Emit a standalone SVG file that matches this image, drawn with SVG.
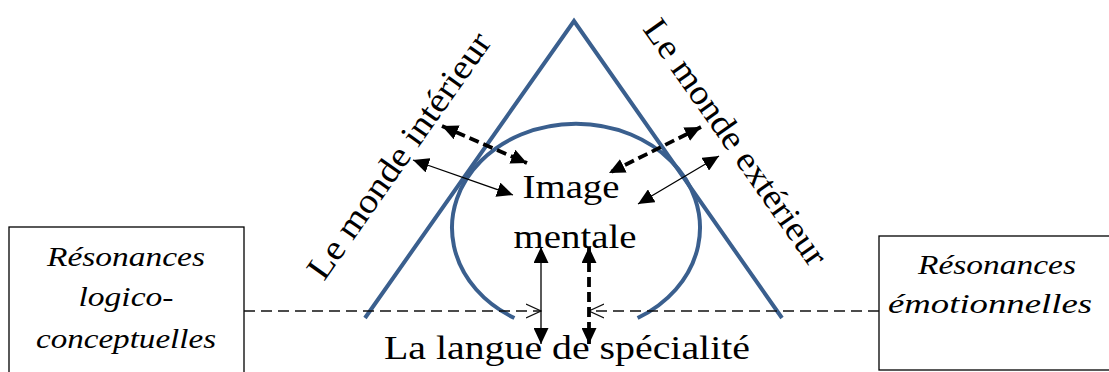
<svg xmlns="http://www.w3.org/2000/svg" width="1109" height="372" viewBox="0 0 1109 372">
<style>
.shape{fill:none;stroke:#3A5F8E;stroke-width:4;stroke-linejoin:miter}
text{font-family:'Liberation Serif','Times New Roman',Times,serif;fill:#000;text-anchor:middle}
.it{font-style:italic;font-size:28px}
.box{fill:#fff;stroke:#000;stroke-width:1.3}
.thin{fill:none;stroke:#000;stroke-width:1.3}
.dash{fill:none;stroke:#000;stroke-width:3.8;stroke-dasharray:10 5}
.hdash{fill:none;stroke:#111;stroke-width:1.3;stroke-dasharray:11 6}
</style>
<defs>
<marker id="ah" markerUnits="userSpaceOnUse" markerWidth="17" markerHeight="15" refX="16" refY="7.5" orient="auto-start-reverse" viewBox="0 0 17 15">
<path d="M0,0 L16,7.5 L0,15 z" fill="#000"/>
</marker>
<marker id="oh" markerUnits="userSpaceOnUse" markerWidth="16" markerHeight="18" refX="15" refY="8" orient="auto" viewBox="0 0 16 16">
<path d="M0,1 L15,8 L0,15" fill="none" stroke="#111" stroke-width="1.2"/>
</marker>
</defs>

<g id="box-left">
<rect class="box" x="9" y="227" width="235" height="160"/>
<text class="it" font-family="Liberation Serif" x="126" y="266" textLength="158" lengthAdjust="spacingAndGlyphs">Résonances</text>
<text class="it" font-family="Liberation Serif" x="126" y="306" textLength="95" lengthAdjust="spacingAndGlyphs">logico-</text>
<text class="it" font-family="Liberation Serif" x="126" y="348" textLength="180" lengthAdjust="spacingAndGlyphs">conceptuelles</text>
</g>

<g id="box-right">
<rect class="box" x="879" y="236" width="240" height="134"/>
<text class="it" font-family="Liberation Serif" x="997" y="274" textLength="158" lengthAdjust="spacingAndGlyphs">Résonances</text>
<text class="it" font-family="Liberation Serif" x="990" y="313" textLength="204" lengthAdjust="spacingAndGlyphs">émotionnelles</text>
</g>

<g id="triangle">
<polyline class="shape" points="365,318 574,21 782,318"/>
</g>

<g id="circle">
<path class="shape" d="M514.4,318 A124,104 0 1 1 637.6,318"/>
</g>

<g id="monde-interieur">
<text font-family="Liberation Serif" style="text-anchor:start" font-size="35" transform="translate(324,282) rotate(-54.9)" textLength="293" lengthAdjust="spacingAndGlyphs">Le monde intérieur</text>
</g>

<g id="monde-exterieur">
<text font-family="Liberation Serif" style="text-anchor:start" font-size="35" transform="translate(642,29) rotate(54.9)" textLength="293" lengthAdjust="spacingAndGlyphs">Le monde extérieur</text>
</g>

<g id="image-mentale">
<text font-family="Liberation Serif" font-size="33" x="571" y="198" textLength="97" lengthAdjust="spacingAndGlyphs">Image</text>
<text font-family="Liberation Serif" font-size="33" x="575" y="248" textLength="123" lengthAdjust="spacingAndGlyphs">mentale</text>
</g>

<g id="langue">
<text font-family="Liberation Serif" font-size="33" x="567" y="359" textLength="366" lengthAdjust="spacingAndGlyphs">La langue de spécialité</text>
</g>

<g id="connectors">
<line class="hdash" x1="244" y1="311" x2="541" y2="311" marker-end="url(#oh)"/>
<line class="hdash" x1="879" y1="311" x2="589" y2="311" marker-end="url(#oh)"/>
<line class="dash" x1="442" y1="126" x2="527" y2="163" marker-start="url(#ah)" marker-end="url(#ah)"/>
<line class="thin" x1="413" y1="160" x2="513" y2="195" marker-start="url(#ah)" marker-end="url(#ah)"/>
<line class="dash" x1="701" y1="127" x2="609" y2="173" marker-start="url(#ah)" marker-end="url(#ah)"/>
<line class="thin" x1="719" y1="156" x2="638" y2="204" marker-start="url(#ah)" marker-end="url(#ah)"/>
<line class="thin" x1="541" y1="247" x2="541" y2="344" marker-start="url(#ah)" marker-end="url(#ah)"/>
<line class="dash" x1="589" y1="247" x2="589" y2="344" marker-start="url(#ah)" marker-end="url(#ah)"/>
</g>
</svg>
